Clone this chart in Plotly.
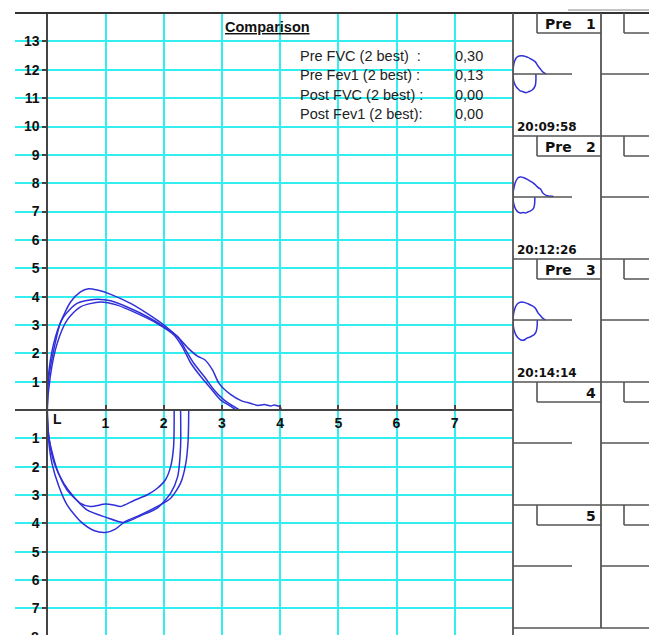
import plotly.graph_objects as go

W, H = 657, 635
OFF = 8  # page body margin in the browser

# ---------------- data (volume L, flow L/s) ----------------
t1_exp_vol = [0, 0.03, 0.14, 0.28, 0.51, 0.80, 1.09, 1.43, 1.72, 2.01, 2.24, 2.38, 2.52, 2.70, 2.87, 3.04, 3.21, 3.30]
t1_exp_flow = [0, 1.41, 2.58, 3.29, 3.76, 3.90, 3.85, 3.58, 3.29, 2.93, 2.58, 2.11, 1.64, 1.17, 0.70, 0.35, 0.12, 0]
t1_insp_vol = [0, 0.03, 0.12, 0.28, 0.45, 0.68, 1.00, 1.32, 1.60, 1.89, 2.12, 2.24, 2.29, 2.29]
t1_insp_flow = [0, -1.0, -1.88, -2.58, -3.05, -3.52, -3.78, -3.97, -3.73, -3.46, -2.93, -2.35, -1.29, 0]

t2_exp_vol = [0, 0.02, 0.11, 0.22, 0.40, 0.57, 0.71, 0.86, 1.09, 1.43, 1.72, 2.01, 2.24, 2.41, 2.58, 2.70,
              2.84, 2.95, 3.16, 3.33, 3.50, 3.62, 3.73, 3.84, 3.90, 3.95, 4.00, 4.02]
t2_exp_flow = [0, 1.06, 2.11, 3.05, 3.81, 4.17, 4.28, 4.23, 4.08, 3.76, 3.40, 2.99, 2.58, 2.20, 1.90, 1.78,
               1.41, 0.94, 0.53, 0.33, 0.23, 0.16, 0.19, 0.14, 0.18, 0.15, 0.12, 0]
t2_insp_vol = [0, 0.03, 0.17, 0.34, 0.57, 0.74, 1.00, 1.14, 1.26, 1.49, 1.72, 1.89, 2.03, 2.12, 2.17, 2.18]
t2_insp_flow = [0, -1.0, -2.11, -2.82, -3.29, -3.40, -3.32, -3.35, -3.40, -3.19, -2.99, -2.76, -2.46, -1.99, -1.29, 0]

t3_exp_vol = [0, 0.05, 0.17, 0.34, 0.57, 0.91, 1.20, 1.55, 1.89, 2.18, 2.32, 2.47, 2.64, 2.81, 2.98, 3.16, 3.24]
t3_exp_flow = [0, 1.17, 2.35, 3.17, 3.64, 3.81, 3.70, 3.40, 3.05, 2.64, 2.23, 1.64, 1.17, 0.76, 0.35, 0.12, 0]
t3_insp_vol = [0, 0.02, 0.08, 0.20, 0.34, 0.57, 0.80, 1.00, 1.17, 1.34, 1.60, 1.89, 2.12, 2.29, 2.38, 2.42, 2.43]
t3_insp_flow = [0, -1.0, -1.88, -2.70, -3.35, -3.93, -4.25, -4.32, -4.20, -3.93, -3.70, -3.40, -3.11, -2.58, -1.88, -1.06, 0]

x_tick_vals = [1, 2, 3, 4, 5, 6, 7]
x_tick_text = ["1", "2", "3", "4", "5", "6", "7"]
y_tick_vals = [-7, -6, -5, -4, -3, -2, -1, 1, 2, 3, 4, 5, 6, 7, 8, 9, 10, 11, 12, 13]
y_tick_text = ["7", "6", "5", "4", "3", "2", "1", "1", "2", "3", "4", "5", "6", "7", "8", "9", "10", "11", "12", "13"]

comp_labels = ["Pre FVC (2 best)\u00a0\u00a0:", "Pre Fev1 (2 best)\u00a0:", "Post FVC (2 best)\u00a0:", "Post Fev1 (2 best):"]
comp_values = ["0,30", "0,13", "0,00", "0,00"]

cell_kinds = ["Pre", "Pre", "Pre", "", ""]
cell_nums = ["1", "2", "3", "4", "5"]
cell_times = ["20:09:58", "20:12:26", "20:14:14", "", ""]

trials = [
    (t1_exp_vol, t1_exp_flow, t1_insp_vol, t1_insp_flow),
    (t2_exp_vol, t2_exp_flow, t2_insp_vol, t2_insp_flow),
    (t3_exp_vol, t3_exp_flow, t3_insp_vol, t3_insp_flow),
]

# ---------------- geometry (window pixels) ----------------
X0, Y0 = 47.3, 410.0          # origin px
SX, SY = 58.2, 28.35          # px per unit
PL, PR, PT, PB = 15, 513, 13, 635
FW, FH = W - OFF, H - OFF


def fx(px):
    return (px - OFF) / FW


def fy(py):
    return 1 - (py - OFF) / FH


BLUE = "#3030d8"
CYAN = "#33eeee"
DARK = "#444444"
FONT = "DejaVu Sans"
ARIAL = "Liberation Sans, Arial, sans-serif"

fig = go.Figure()


def loop_xy(ev, ef, iv, iflow):
    xs = list(reversed(iv)) + list(ev[1:])
    ys = list(reversed(iflow)) + list(ef[1:])
    return xs, ys


for ev, ef, iv, ifl in trials:
    xs, ys = loop_xy(ev, ef, iv, ifl)
    fig.add_trace(go.Scatter(x=xs, y=ys, mode="lines",
                             line=dict(color=BLUE, width=1.5, shape="spline", smoothing=0.7),
                             hoverinfo="skip", showlegend=False, xaxis="x", yaxis="y"))

# mini loops
cell_tops = [13, 136, 259, 382, 505]
cell_bottom = 628
MSX, MSY = 10.0, 4.7
for i, (ev, ef, iv, ifl) in enumerate(trials):
    ax_y = cell_tops[i] + 61
    xs, ys = loop_xy(ev, ef, iv, ifl)
    n = i + 2
    fig.add_trace(go.Scatter(x=xs, y=ys, mode="lines",
                             line=dict(color=BLUE, width=1.5, shape="spline", smoothing=0.9),
                             hoverinfo="skip", showlegend=False,
                             xaxis=f"x{n}", yaxis=f"y{n}"))
    fig.layout[f"xaxis{n}"] = dict(domain=[fx(513), fx(601)], range=[0, 88 / MSX], visible=False,
                                   anchor=f"y{n}", fixedrange=True)
    fig.layout[f"yaxis{n}"] = dict(domain=[fy(ax_y + 28), fy(ax_y - 28)], range=[-28 / MSY, 28 / MSY],
                                   visible=False, anchor=f"x{n}", fixedrange=True)

fig.update_layout(
    width=FW, height=FH,
    margin=dict(l=0, r=0, t=0, b=0),
    paper_bgcolor="white", plot_bgcolor="white",
    xaxis=dict(domain=[fx(PL), fx(PR)], range=[(PL - X0) / SX, (PR - X0) / SX],
               anchor="free", position=fy(Y0),
               tickmode="array", tickvals=x_tick_vals, ticktext=x_tick_text,
               showgrid=True, gridcolor=CYAN, gridwidth=2,
               zeroline=False, showline=True, linecolor=DARK, linewidth=2,
               ticks="inside", ticklen=4, tickwidth=1.5, tickcolor=DARK,
               tickfont=dict(family=ARIAL, size=14, color="#111", weight="bold")),
    yaxis=dict(domain=[fy(PB), fy(PT)], range=[(Y0 - PB) / SY, (Y0 - PT) / SY],
               anchor="free", position=fx(X0),
               tickmode="array", tickvals=y_tick_vals, ticktext=y_tick_text,
               showgrid=True, gridcolor=CYAN, gridwidth=2,
               zeroline=False, showline=True, linecolor=DARK, linewidth=2,
               ticks="outside", ticklen=4, tickwidth=1.5, tickcolor=DARK,
               tickfont=dict(family=ARIAL, size=14, color="#111", weight="bold")),
)

shapes = []
ann = []


def hline(y, x1, x2, color="#555555", width=1.6):
    shapes.append(dict(type="line", xref="paper", yref="paper", x0=fx(x1), x1=fx(x2), y0=fy(y), y1=fy(y),
                       line=dict(color=color, width=width)))


def vline(x, y1, y2, color="#555555", width=1.6):
    shapes.append(dict(type="line", xref="paper", yref="paper", x0=fx(x), x1=fx(x), y0=fy(y1), y1=fy(y2),
                       line=dict(color=color, width=width)))


# top border
hline(13, PL, W, color="#333333", width=2)
hline(10, 568, W, color="#888888", width=1)

# right panel frame
vline(513, 13, H, width=1.8)
vline(601, 13, cell_bottom, width=1.8)
for t in cell_tops[1:]:
    hline(t, 513, W)
hline(cell_bottom, 513, W)

for i, t in enumerate(cell_tops):
    vline(537, t, t + 20)
    hline(t + 20, 537, 601)
    vline(624, t, t + 20)
    hline(t + 20, 624, W)
    hline(t + 61, 513, 572)
    hline(t + 61, 601, W)
    if cell_kinds[i]:
        ann.append(dict(x=fx(543), y=fy(t + 10.5), xref="paper", yref="paper", text=cell_kinds[i],
                        xanchor="left", yanchor="middle", showarrow=False,
                        font=dict(family=FONT, size=14, color="#111", weight="bold")))
    ann.append(dict(x=fx(598), y=fy(t + 10.5), xref="paper", yref="paper", text=cell_nums[i],
                    xanchor="right", yanchor="middle", showarrow=False,
                    font=dict(family=FONT, size=14, color="#111", weight="bold")))
    if cell_times[i]:
        ann.append(dict(x=fx(515), y=fy(t + 114), xref="paper", yref="paper", text=cell_times[i],
                        xanchor="left", yanchor="middle", showarrow=False,
                        font=dict(family=FONT, size=12, color="#111", weight="bold")))

# comparison text
ann.append(dict(x=fx(222.5), y=fy(27.5), xref="paper", yref="paper", text="<u>Comparison</u>",
                xanchor="left", yanchor="middle", showarrow=False,
                font=dict(family=ARIAL, size=14.5, color="#111", weight="bold")))
for k, (lab, val) in enumerate(zip(comp_labels, comp_values)):
    yy = 56 + 19.5 * k
    ann.append(dict(x=fx(297.5), y=fy(yy), xref="paper", yref="paper", text=lab,
                    xanchor="left", yanchor="middle", showarrow=False,
                    font=dict(family=ARIAL, size=14.5, color="#222")))
    ann.append(dict(x=fx(452.5), y=fy(yy), xref="paper", yref="paper", text=val,
                    xanchor="left", yanchor="middle", showarrow=False,
                    font=dict(family=ARIAL, size=14.5, color="#222")))

# "L" near origin and cut-off "8" at the bottom
ann.append(dict(x=0.18, y=-0.32, xref="x", yref="y", text="L", showarrow=False,
                xanchor="center", yanchor="middle",
                font=dict(family=ARIAL, size=14, color="#111", weight="bold")))
ann.append(dict(x=fx(41), y=fy(637), xref="paper", yref="paper", text="8", showarrow=False,
                xanchor="right", yanchor="middle",
                font=dict(family=ARIAL, size=14, color="#111", weight="bold")))

fig.update_layout(shapes=shapes, annotations=ann)

fig.write_html("out.html")
